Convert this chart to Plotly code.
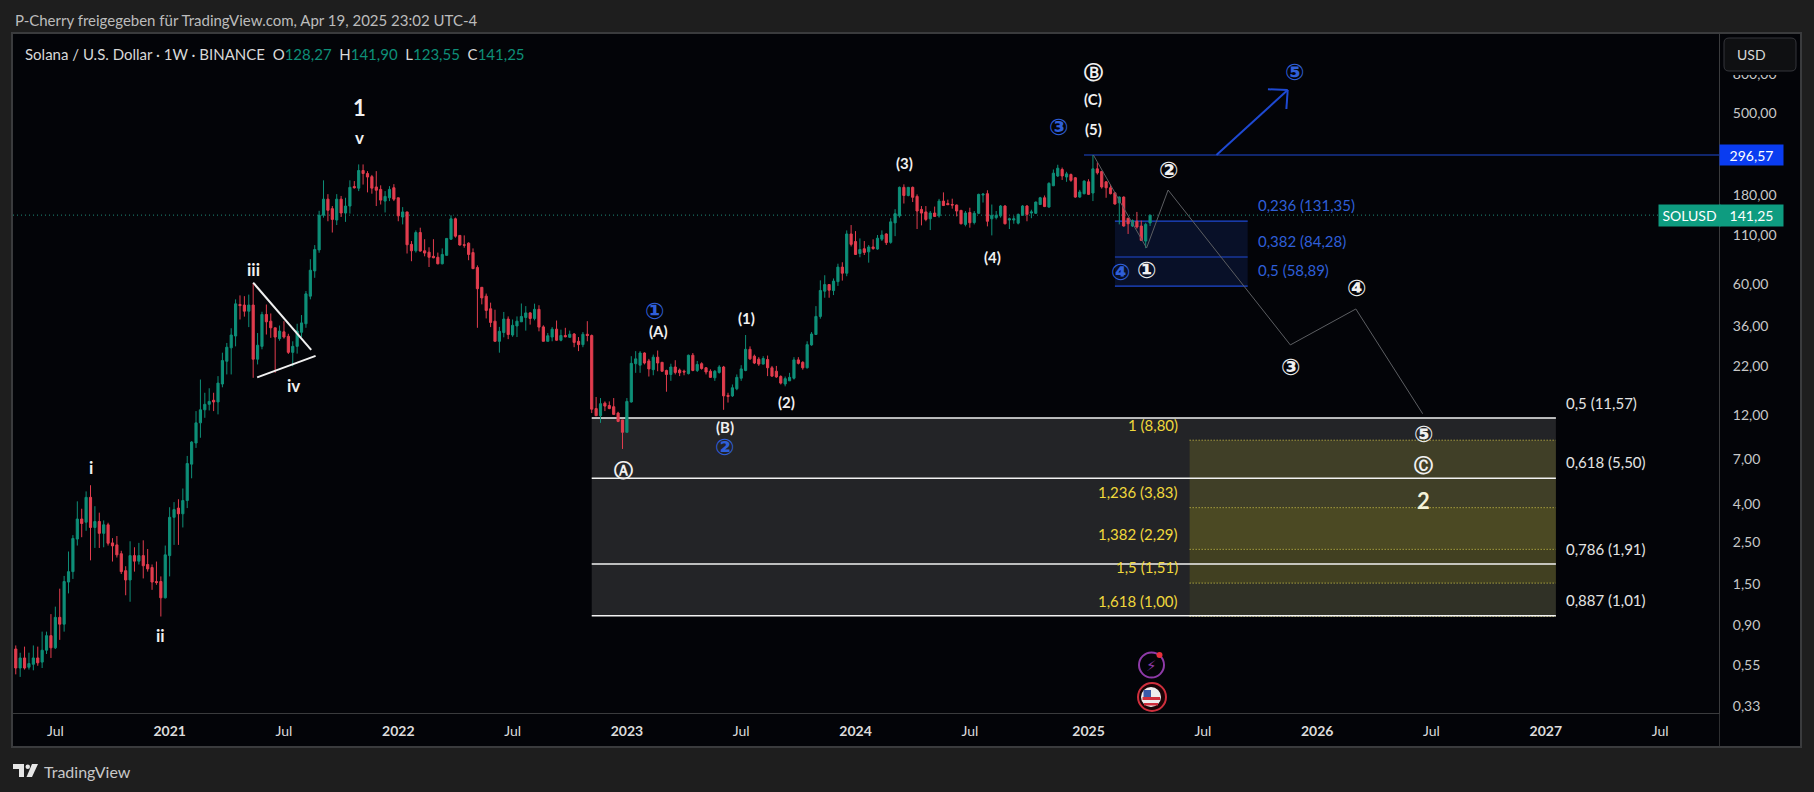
import math
import pandas as pd
import plotly.graph_objects as go

# weekly candles
opens = [
    .62, .67, .53, .60, .535, .555, .60, .57, .66, .79, .68,
    .99, .91, 1.53, 1.74, 2.6, 3.33, 3.2, 4.35, 3.0, 3.23,
    2.79, 3.1, 2.48, 2.42, 2.17, 1.76, 1.57, 2.12, 1.98, 2.12,
    1.9, 1.83, 1.54, 1.54, 1.26, 2.12, 3.4, 3.81, 3.55, 4.18,
    6.55, 8.5, 10.9, 12.8, 13.7, 14.4, 14.1, 17.6, 23.3, 27.5,
    31.8, 46.9, 46.6, 43.2, 46.6, 23.9, 28, 41.5, 38.2, 35.2,
    30.8, 33.5, 31.7, 26, 28, 33.3, 37, 52, 71, 92,
    141, 172, 153, 133, 172, 145, 158, 201, 197, 245,
    236, 227, 200, 194, 168, 175, 198, 175, 138, 147,
    98.5, 91, 114, 91, 89.5, 85, 84, 77.5, 86, 105,
    135, 110, 98, 100, 89, 74, 58, 52, 44.5, 38.2,
    29.8, 33.2, 39.2, 32.2, 36, 37.9, 40, 42.3, 39.5, 44.2,
    35.6, 29.8, 31.4, 34.6, 30.2, 32, 31.3, 32.6, 29.8, 28.6,
    32.5, 32, 13, 11.9, 13.9, 13.5, 13.3, 12.3, 11.3, 9.7,
    14.1, 22.6, 22.2, 25.8, 23.4, 21, 24.5, 23, 20.8, 19.8,
    21.7, 20.9, 20.6, 20, 25.1, 20.8, 22.6, 21.5, 20.6, 19,
    20.3, 21.7, 15.3, 15.2, 16.6, 18.9, 20.8, 27, 24.8, 23.9,
    22.5, 23.8, 21.5, 20.6, 19.3, 17.6, 18.3, 18.9, 23.7, 23,
    21.5, 28.5, 32.4, 40.5, 55.3, 60, 55.7, 62.2, 74.4, 69,
    112, 102, 88, 93.3, 89.8, 95.4, 93, 105, 112, 101,
    128.4, 140, 199, 180, 199, 178, 151.6, 147, 135, 145,
    140, 168, 163, 161, 160, 149.8, 126, 146, 129, 144.5,
    181, 184, 135, 137, 140, 158, 133, 133, 128, 141,
    158, 145, 144.5, 161, 175, 156, 203, 229, 248, 226,
    233, 224, 176.5, 184, 213, 185.6, 250, 242, 213, 198,
    186, 164.5, 176.5, 136, 123.5, 131, 123.5, 102.6, 128.27,
]
highs = [
    .68, .70, .64, .69, .64, .70, .69, .83, .83, 1.03, 1.13,
    1.41, 1.65, 2.23, 2.73, 4.14, 3.78, 4.68, 5.05, 3.9, 3.6,
    3.27, 3.18, 2.63, 2.7, 2.25, 1.86, 2.53, 2.35, 2.48, 2.56,
    2.3, 1.9, 1.97, 1.64, 2.4, 3.85, 4.1, 4.25, 4.85, 7.25,
    8.7, 12.6, 18.6, 15.8, 16.7, 15.8, 19.4, 25.9, 29.2, 35,
    50, 52.5, 52, 53, 61, 33, 42.9, 46.9, 42, 35.2,
    36.2, 38.2, 32.7, 29.8, 37, 41.2, 55.4, 82, 97.6, 149,
    217, 183, 158, 183, 179, 175, 217, 215, 264, 264,
    243, 232, 243, 204, 190, 202, 207, 175, 156, 147,
    102.6, 117, 121, 105, 95, 105, 89, 93.7, 106, 141,
    137, 110, 110, 101, 93.7, 76, 58, 53.7, 48, 44,
    35.6, 42.8, 40.5, 39, 40.5, 47.5, 46, 42.8, 47.4, 46.5,
    36.3, 33, 35.5, 38.5, 34.4, 35.2, 34, 33, 31.4, 33.4,
    38.2, 32.4, 15, 14.8, 14.2, 14.2, 14.8, 12.5, 11.3, 14.8,
    24.8, 26.4, 26.4, 26, 24, 25.3, 26.6, 23, 21, 22.6,
    23.6, 21.3, 21, 25.3, 25.8, 23.4, 23, 21.7, 21.1, 20.9,
    22.2, 22, 15.8, 17.5, 19.8, 22.2, 32.2, 28, 25.3, 24.5,
    24.8, 25, 22, 22, 19.6, 19.3, 20.2, 24.5, 24.5, 23.3,
    29.8, 33.4, 46, 63.2, 67.3, 60, 64.7, 77.6, 79, 117,
    125, 116, 106, 102.6, 97.7, 104.8, 110.6, 117, 113, 136,
    152, 201, 206.5, 200, 201, 182.5, 158, 158, 148.6, 157,
    172.6, 187, 171, 173, 161, 150.7, 148.6, 154.8, 148.6, 184,
    185, 192, 161, 148.6, 160, 160, 137, 140, 144, 160,
    160, 151, 167, 177, 180, 212, 248, 263, 254, 241,
    236, 226, 193, 217, 220, 296.57, 270, 244, 215, 206,
    187, 178, 178, 136, 134, 147, 132, 128.6, 141.9,
]
lows = [
    .60, .49, .475, .52, .52, .515, .545, .53, .63, .60, .67,
    .75, .83, 1.33, 1.59, 2.40, 2.66, 2.88, 2.0, 2.33, 2.33,
    2.35, 2.40, 1.97, 2.07, 1.69, 1.30, 1.2, 1.74, 1.9, 1.6,
    1.74, 1.39, 1.48, 1.00, 1.25, 1.64, 2.42, 2.42, 3.0, 3.81,
    5.5, 8.0, 9.07, 11.6, 12.7, 12.6, 12.1, 16.9, 19.8, 19.8,
    28, 39, 40.4, 35.5, 19, 22.4, 27, 32.4, 31.1, 20.2,
    30, 30.8, 25.5, 21.9, 25.6, 31.4, 35.2, 50, 65.2, 88.8,
    137, 131, 114, 125, 138, 130, 144, 196, 190, 206,
    187, 184, 158, 161, 146, 168, 168, 131, 126, 88,
    80, 89, 90, 85, 74.5, 83, 77, 77, 86, 104,
    107, 97, 94.5, 81, 72.7, 35.2, 47, 39.5, 35.5, 29.8,
    25.9, 31.3, 30.6, 31.5, 31.4, 37.9, 34, 36.6, 38.6, 33.7,
    29.8, 29.8, 29.8, 30, 29.8, 31.3, 31.1, 27.7, 26.4, 27.7,
    29.8, 12.3, 11.9, 10.9, 12.6, 12.9, 12, 11, 7.9, 9.7,
    14, 20.2, 20.2, 22.4, 19.3, 19.6, 20.6, 20.5, 16, 18.3,
    19.8, 19.4, 19.6, 19.8, 20.6, 20.4, 21, 19.8, 19, 18.3,
    20, 12.8, 14, 15, 16.3, 18.3, 20.6, 23.7, 22.5, 22,
    22.4, 19.4, 19.2, 19, 17.5, 17.1, 18.3, 18.6, 22.4, 21,
    21.3, 28.2, 32.2, 39.4, 51, 51, 52.7, 59, 63, 66.5,
    96, 86.4, 84, 86.4, 78.6, 92.2, 92.2, 102.6, 97.7, 99.3,
    109, 137, 163, 178, 166, 119, 124.5, 131, 117.5, 138,
    137, 158, 160, 153, 139, 126, 123, 121, 126, 143,
    165, 123, 110, 134, 137, 126, 119, 127, 126, 140,
    131, 136, 143.6, 160, 156, 155, 202, 226, 218, 213,
    213, 175, 175, 182.5, 181, 168, 233, 196, 175, 182.5,
    161, 126, 122.5, 112, 122, 119.6, 102.6, 94, 123.55,
]
closes = [
    .66, .53, .60, .53, .56, .60, .565, .66, .79, .68, .99,
    .91, 1.54, 1.74, 2.62, 3.33, 3.15, 4.35, 3.0, 3.23, 2.79,
    3.1, 2.47, 2.39, 2.14, 1.74, 1.57, 2.12, 1.98, 2.12, 1.87,
    1.8, 1.53, 1.52, 1.26, 2.14, 3.4, 3.74, 3.55, 4.18, 6.6,
    8.6, 10.9, 12.8, 13.7, 14.2, 14.1, 17.8, 23.5, 27.7, 32.2,
    47.3, 46.3, 43.2, 46.6, 23.9, 28.4, 41.5, 37.9, 35.2, 31.4,
    33.8, 31.4, 26, 28, 33.8, 37.4, 53.5, 71.6, 92.5, 141,
    172, 150, 134, 172, 145, 158, 199, 198, 245, 236,
    226, 197, 192, 170, 178, 194, 172, 140, 147, 98,
    91, 114, 90.7, 88.5, 84, 83.5, 77.5, 87, 106, 135,
    109, 97.7, 97.5, 87, 73, 57, 50.9, 43.6, 37.6, 29.8,
    33.7, 39.2, 32.4, 36.3, 38.2, 40.5, 42.3, 39.5, 44.2, 35.5,
    29.8, 31.9, 34.6, 30.2, 32, 31.5, 32.5, 29.4, 28.6, 32.5,
    32, 12.9, 11.9, 13.8, 13.4, 13, 12.1, 11.1, 9.7, 14.2,
    22.7, 24, 25.8, 22.8, 21.2, 24.5, 22.8, 20.6, 19.8, 21.7,
    20.3, 20.2, 20.4, 25.1, 20.8, 22.4, 21.3, 20.4, 19.1, 20.6,
    21.7, 15.2, 15.1, 16.8, 19.1, 21.2, 27, 24, 22.8, 22.5,
    24.1, 21.5, 19.4, 19.2, 17.8, 18.8, 19.1, 23.7, 22.7, 21.5,
    28.6, 32.6, 40.5, 55.8, 60, 56, 62.6, 74.4, 69, 112,
    98.5, 87, 92.5, 89.2, 95.4, 93.5, 106.3, 110.5, 100.6, 130,
    143.8, 199, 180, 199, 176, 148.6, 144.9, 134, 145, 139,
    168, 159, 160.6, 160, 148.6, 127, 145, 128.6, 144.5, 182.5,
    183, 131, 141, 141, 158, 127, 135, 135, 142.6, 158,
    142.6, 147, 166, 175, 157, 209, 237, 252, 229, 235,
    217, 176.5, 188, 215, 182.5, 250, 238, 200, 198, 184,
    162, 176.5, 123.5, 127, 132, 122, 103.5, 126, 141.25,
]
first_bar = pd.Timestamp("2020-04-27")
bar_dates = pd.date_range(first_bar, periods=len(closes), freq="7D")

tick_dates = ["2020-07-06", "2021-01-04", "2021-07-05", "2022-01-03", "2022-07-04",
              "2023-01-02", "2023-07-03", "2024-01-01", "2024-07-01", "2025-01-06",
              "2025-07-07", "2026-01-05", "2026-07-06", "2027-01-04", "2027-07-05"]
tick_names = ["Jul", "<b>2021</b>", "Jul", "<b>2022</b>", "Jul", "<b>2023</b>", "Jul", "<b>2024</b>",
              "Jul", "<b>2025</b>", "Jul", "<b>2026</b>", "Jul", "<b>2027</b>", "Jul"]
price_ticks = [800, 500, 180, 110, 60, 36, 22, 12, 7, 4, 2.5, 1.5, 0.9, 0.55, 0.33]
price_names = ["800,00", "500,00", "180,00", "110,00", "60,00", "36,00", "22,00", "12,00",
               "7,00", "4,00", "2,50", "1,50", "0,90", "0,55", "0,33"]

white_levels = [11.57, 5.50, 1.91, 1.01]
yellow_levels = [8.80, 3.83, 2.29, 1.51, 1.00]
blue_levels = [131.35, 84.28, 58.89]
last_price = 141.25
swing_high = 296.57

# projected wave path (bar number, price)
path_bars = [246.1, 258.2, 263.1, 290.9, 305.8, 321]
path_prices = [296.57, 94.2, 192.6, 28.5, 44.4, 12.2]

BG = "#1e1e1e"
PANEL = "#030408"
EDGE = "#3a3b3d"
GREEN = "#0e8f78"
RED = "#e23d4e"
BLUE = "#1e49d2"
BLUE_TEXT = "#2f5fd8"
YELLOW = "#f0d83c"
WHITE = "#f0f0f0"
GREY = "#c4c6c8"
FONT = "Lato, 'DejaVu Sans'"
CIRCLE = "'DejaVu Sans'"


def bar_date(n):
    return (first_bar + pd.Timedelta(days=7 * n)).strftime("%Y-%m-%d %H:%M")


def px_x(x):
    return (x - 13) / 1706


def px_y(y):
    return 1 - (y - 33) / 680


def label(text, n, price, size=14, color=WHITE, family=FONT, xanchor="center"):
    return dict(text=text, x=bar_date(n), y=math.log10(price), xref="x", yref="y",
                showarrow=False, xanchor=xanchor, yanchor="middle",
                font=dict(size=size, color=color, family=family))


def page_text(text, x, y, size=14, color=GREY, xanchor="left", **kw):
    return dict(text=text, x=px_x(x), y=px_y(y), xref="paper", yref="paper",
                showarrow=False, xanchor=xanchor, yanchor="middle",
                font=dict(size=size, color=color, family=FONT), **kw)


def page_rect(x0, y0, x1, y1, fill, line=None, width=0, layer="below"):
    return dict(type="rect", xref="paper", yref="paper", layer=layer,
                x0=px_x(x0), x1=px_x(x1), y0=px_y(y0), y1=px_y(y1),
                fillcolor=fill, line=dict(color=line or fill, width=width))


def data_rect(n0, n1, p0, p1, fill):
    return dict(type="rect", xref="x", yref="y", layer="below",
                x0=bar_date(n0), x1=bar_date(n1), y0=p0, y1=p1,
                fillcolor=fill, line=dict(width=0))


def data_line(n0, p0, n1, p1, color, width=1, dash="solid", layer="below"):
    return dict(type="line", xref="x", yref="y", layer=layer,
                x0=bar_date(n0), x1=bar_date(n1), y0=p0, y1=p1,
                line=dict(color=color, width=width, dash=dash))


def dot(cx, cy, r, fill, line=None, width=0):
    return dict(type="circle", xref="paper", yref="paper", layer="above",
                x0=px_x(cx - r), x1=px_x(cx + r), y0=px_y(cy + r), y1=px_y(cy - r),
                fillcolor=fill, line=dict(color=line or fill, width=width))


def rounded_box(x0, y0, x1, y1, r, fill, line):
    pts = [("M", x0 + r, y0), ("L", x1 - r, y0), ("Q", x1, y0, x1, y0 + r), ("L", x1, y1 - r),
           ("Q", x1, y1, x1 - r, y1), ("L", x0 + r, y1), ("Q", x0, y1, x0, y1 - r),
           ("L", x0, y0 + r), ("Q", x0, y0, x0 + r, y0)]
    path = ""
    for p in pts:
        coords = [px_x(v) if i % 2 == 0 else px_y(v) for i, v in enumerate(p[1:])]
        path += p[0] + " " + " ".join(str(c) for c in coords) + " "
    return dict(type="path", xref="paper", yref="paper", layer="above", path=path + "Z",
                fillcolor=fill, line=dict(color=line, width=1))


shapes = [
    page_rect(12, 33, 1801, 747, PANEL, EDGE, 2),
    page_rect(1719, 713, 1719.8, 747, EDGE),
    # the USD button hides the top half of the 800,00 label
    page_rect(1721, 68, 1799, 75, PANEL, layer="above"),
    rounded_box(1724, 38, 1796, 71, 5, "#0f1012", "#34353a"),
]

# white fib box
w0, w1 = 132, 351.3
shapes.append(data_rect(w0, w1, white_levels[0], white_levels[-1], "#232427"))
# yellow fib box
y0, y1 = 268, 351.3
yellow_fills = ["rgba(112,108,40,0.38)", "rgba(122,118,30,0.46)",
                "rgba(118,114,24,0.36)", "rgba(90,88,40,0.26)"]
for i, fill in enumerate(yellow_fills):
    shapes.append(data_rect(y0, y1, yellow_levels[i], yellow_levels[i + 1], fill))
for lvl in yellow_levels:
    shapes.append(data_line(y0, lvl, y1, lvl, "#d8cf4a", 1, "1px,2px"))
for lvl in white_levels:
    shapes.append(data_line(w0, lvl, w1, lvl, "#f2f2f2", 1.5))
# blue fib box
b0, b1 = 251, 281.2
shapes.append(data_rect(b0, b1, blue_levels[0], blue_levels[-1], "rgba(30,66,170,0.20)"))
for lvl in blue_levels:
    shapes.append(data_line(b0, lvl, b1, lvl, BLUE, 1.2))
# last price and swing high lines
shapes.append(dict(type="line", xref="paper", yref="y", layer="below", x0=0, x1=px_x(1658),
                   y0=last_price, y1=last_price, line=dict(color="#1f8a76", width=1, dash="1px,3px")))
shapes.append(dict(type="line", xref="paper", yref="y", layer="below", x0=px_x(1084), x1=1,
                   y0=swing_high, y1=swing_high, line=dict(color=BLUE, width=1.2)))
# arrow to blue 5
shapes += [
    data_line(274.1, swing_high, 290.3, 661, BLUE, 2, layer="above"),
    data_line(285.8, 667, 290.3, 661, BLUE, 2, layer="above"),
    data_line(290, 523, 290.3, 661, BLUE, 2, layer="above"),
]
# triangle
shapes += [
    data_line(55, 61.4, 68.2, 26.8, WHITE, 2, layer="above"),
    data_line(55.9, 19.1, 69.2, 24.9, WHITE, 2, layer="above"),
]
# event icons
shapes += [
    dot(1151.5, 665, 12.5, "rgba(0,0,0,0)", "#8e3aa8", 2),
    dot(1159.5, 655, 3, "#e8303c"),
    dot(1152, 697, 14, "#1a0406", "#cf2f3d", 2),
    dot(1151, 697, 10, "#eeeeee"),
    page_rect(1142.5, 697, 1160, 700, "#cf2f3d", layer="above"),
    page_rect(1144, 703, 1158, 705.5, "#cf2f3d", layer="above"),
    page_rect(1143.5, 690, 1151, 697, "#3a5aa8", layer="above"),
]
# footer logo
shapes += [
    page_rect(13, 764, 24, 769, "#e6e6e6", layer="above"),
    page_rect(19, 769, 24, 777, "#e6e6e6", layer="above"),
    dict(type="circle", xref="paper", yref="paper", layer="above", x0=px_x(25.5), x1=px_x(30),
         y0=px_y(769), y1=px_y(764.5), fillcolor="#e6e6e6", line=dict(width=0)),
    dict(type="path", xref="paper", yref="paper", layer="above", fillcolor="#e6e6e6", line=dict(width=0),
         path="M {} {} L {} {} L {} {} L {} {} Z".format(
             px_x(32), px_y(764), px_x(38), px_y(764), px_x(32), px_y(777), px_x(26.5), px_y(777))),
]

annotations = [
    page_text("P-Cherry freigegeben für TradingView.com, Apr 19, 2025 23:02 UTC-4", 13, 20, 15, "#bcbcbc"),
    page_text("<span style='color:#d8d8d8'>Solana / U.S. Dollar · 1W · BINANCE  O</span>"
              "<span style='color:#0e8f78'>128,27</span>"
              "<span style='color:#d8d8d8'>  H</span><span style='color:#0e8f78'>141,90</span>"
              "<span style='color:#d8d8d8'>  L</span><span style='color:#0e8f78'>123,55</span>"
              "<span style='color:#d8d8d8'>  C</span><span style='color:#0e8f78'>141,25</span>",
              23, 53.7, 15),
    page_text("TradingView", 42, 771, 16, "#c8c8c8"),
    page_text("USD", 1735, 54.5, 14, "#d8d8d8"),
    page_text("296,57", 1719, 155, 14, "#ffffff", bgcolor="#0a3cf0", width=63, height=20,
              align="center", borderpad=0),
    page_text("141,25", 1719, 215.3, 14, "#ffffff", bgcolor="#0e9c80", width=63, height=21,
              align="center", borderpad=0),
    page_text("SOLUSD", 1658, 215.3, 14, "#ffffff", bgcolor="#0e9c80", width=61, height=21,
              align="center", borderpad=0),
    page_text("⚡", 1151.5, 665, 15, "#8e3aa8", xanchor="center"),
]

# wave counts
annotations += [
    label("<b>1</b>", 79.2, 531, 22),
    label("<b>v</b>", 79.2, 366, 17),
    label("<b>iii</b>", 55.1, 72.7, 17),
    label("<b>iv</b>", 64.2, 17.2, 17),
    label("<b>i</b>", 18.2, 6.27, 17),
    label("<b>ii</b>", 34, 0.79, 17),
    label("<b>2</b>", 321.1, 4.16, 22, "#f4f2d8"),
]
bracket_text = ["(A)", "(B)", "(1)", "(2)", "(3)", "(4)", "(C)", "(5)"]
bracket_bars = [147.2, 162.2, 167.2, 176.3, 203.2, 223.2, 246.1, 246.1]
bracket_prices = [33.8, 10.4, 39.9, 14.1, 267.7, 84.3, 592, 410]
for t, n, p in zip(bracket_text, bracket_bars, bracket_prices):
    annotations.append(label("<b>" + t + "</b>", n, p, 15))

# the circled digits come out smaller than the circled letters at one size
letter_text = ["Ⓐ", "Ⓑ", "Ⓒ"]
letter_bars = [139.2, 246.1, 321.1]
letter_prices = [6.07, 829, 6.48]
for t, n, p in zip(letter_text, letter_bars, letter_prices):
    annotations.append(label("<b>" + t + "</b>", n, p, 19, WHITE, CIRCLE))

digit_text = ["②", "①", "③", "④", "⑤"]
digit_bars = [263.1, 258.2, 291, 306, 321.1]
digit_prices = [247, 71.8, 21.7, 57.5, 9.46]
for t, n, p in zip(digit_text, digit_bars, digit_prices):
    annotations.append(label("<b>" + t + "</b>", n, p, 23, WHITE, CIRCLE))

blue_text = ["①", "②", "③", "④", "⑤"]
blue_bars = [146.2, 162.2, 238.2, 252.2, 291.9]
blue_prices = [43.1, 8.06, 420, 70, 829]
for t, n, p in zip(blue_text, blue_bars, blue_prices):
    annotations.append(label("<b>" + t + "</b>", n, p, 23, BLUE_TEXT, CIRCLE))

# fib level texts
white_names = ["0,5 (11,57)", "0,618 (5,50)", "0,786 (1,91)", "0,887 (1,01)"]
white_name_prices = [13.9, 6.73, 2.3, 1.23]
for t, p in zip(white_names, white_name_prices):
    annotations.append(label(t, 353.2, p, 15, "#e4e4e4", xanchor="left"))
yellow_names = ["1 (8,80)", "1,236 (3,83)", "1,382 (2,29)", "1,5 (1,51)", "1,618 (1,00)"]
yellow_name_prices = [10.6, 4.65, 2.77, 1.84, 1.21]
for t, p in zip(yellow_names, yellow_name_prices):
    annotations.append(label(t, 265.8, p, 15, YELLOW, xanchor="right"))
blue_names = ["0,236 (131,35)", "0,382 (84,28)", "0,5 (58,89)"]
blue_name_prices = [160, 103, 71.8]
for t, p in zip(blue_names, blue_name_prices):
    annotations.append(label(t, 283.2, p, 15, BLUE_TEXT, xanchor="left"))

candles = go.Candlestick(
    x=bar_dates, open=opens, high=highs, low=lows, close=closes,
    increasing=dict(line=dict(color=GREEN, width=1), fillcolor=GREEN),
    decreasing=dict(line=dict(color=RED, width=1), fillcolor=RED),
    whiskerwidth=0, showlegend=False, hoverinfo="skip",
)
wave_path = go.Scatter(
    x=[bar_date(n) for n in path_bars], y=path_prices, mode="lines",
    line=dict(color="#5c5e62", width=1), showlegend=False, hoverinfo="skip",
)

fig = go.Figure(data=[candles, wave_path])
fig.update_layout(
    width=1814, height=792,
    margin=dict(l=13, r=95, t=33, b=79),
    paper_bgcolor=BG, plot_bgcolor=PANEL,
    font=dict(family=FONT, color=GREY, size=14),
    showlegend=False,
    shapes=shapes, annotations=annotations,
    xaxis=dict(
        type="date", range=["2020-04-29 14:24", "2027-10-06 19:00"],
        rangeslider=dict(visible=False),
        tickmode="array", tickvals=tick_dates, ticktext=tick_names, tickangle=0,
        showgrid=False, zeroline=False, showline=True, linecolor=EDGE, linewidth=1,
        ticks="outside", ticklen=5, tickcolor="rgba(0,0,0,0)",
        tickfont=dict(size=14, color="#dcdcdc", family=FONT),
    ),
    yaxis=dict(
        type="log", range=[-0.5167, 3.1256], side="right",
        tickmode="array", tickvals=price_ticks, ticktext=price_names,
        showgrid=False, zeroline=False, showline=True, linecolor=EDGE, linewidth=1,
        ticks="outside", ticklen=10, tickcolor="rgba(0,0,0,0)",
        tickfont=dict(size=14, color="#c8c8c8", family=FONT),
    ),
)

fig.write_html("out.html", config=dict(displayModeBar=False),
               post_script="document.body.style.margin='0';document.body.style.background='#1e1e1e';")
